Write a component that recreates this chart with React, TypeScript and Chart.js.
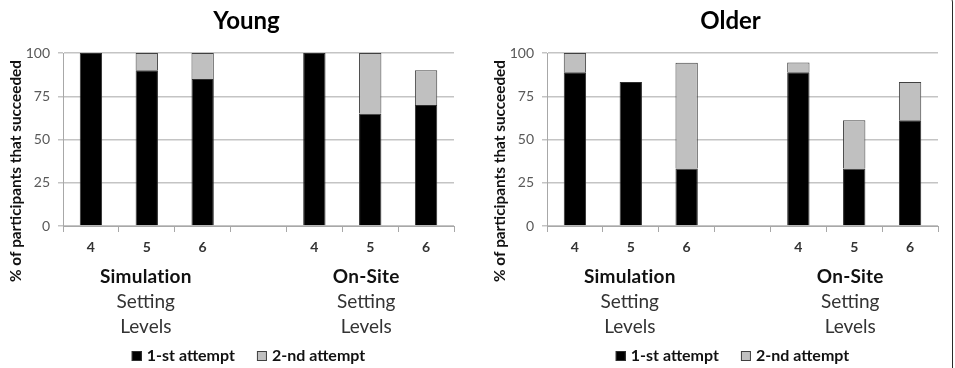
import React, { useEffect, useRef } from "react";
import { Chart, registerables } from "chart.js";

Chart.register(...registerables);

// Difficulty levels per setting; the empty slot separates the two settings.
const levels = ["4", "5", "6", "", "4", "5", "6"];
const groupNames = ["Simulation", "On-Site"];
const groupIndex = [1, 5];
const groupLines = ["Setting", "Levels"];
const seriesNames = ["1-st attempt", "2-nd attempt"];
const yTickValues = [0, 25, 50, 75, 100];
const yAxisTitle = "% of participants that succeeded";

// % of participants succeeding, per level
const youngFirst = [100, 90, 85, null, 100, 65, 70];
const youngSecond = [null, 10, 15, null, null, 35, 20];
const olderFirst = [88.9, 83.3, 33.3, null, 88.9, 33.3, 61.1];
const olderSecond = [11.1, null, 61.1, null, 5.6, 27.8, 22.2];

const FONT = "Lato, 'Open Sans', sans-serif";
const GRID = "#c4c4c4";
const AXIS = "#a8a8a8";

// Draws the heading, rotated axis caption, setting captions and legend.
const decorations = (heading: string) => ({
  id: "decorations",
  afterDraw(chart: any) {
    const { ctx, chartArea } = chart;
    const xScale = chart.scales.x;
    const mid = (chartArea.left + chartArea.right) / 2;
    ctx.save();
    ctx.textAlign = "center";
    ctx.textBaseline = "alphabetic";

    ctx.fillStyle = "#000";
    ctx.font = `bold 24px ${FONT}`;
    ctx.fillText(heading, mid - 12, 29);

    ctx.save();
    ctx.translate(chartArea.left - 47, 171);
    ctx.rotate(-Math.PI / 2);
    ctx.textBaseline = "middle";
    ctx.font = `bold 16px ${FONT}`;
    ctx.fillStyle = "#111";
    ctx.fillText(yAxisTitle, 0, 0, 222);
    ctx.restore();

    groupIndex.forEach((idx, g) => {
      const cx = xScale.getPixelForValue(idx) - (g ? 4 : 1);
      ctx.save();
      // a tiny letter spacing keeps "ti" from joining into a ligature
      (ctx as any).letterSpacing = "0.2px";
      ctx.font = `bold 19px ${FONT}`;
      ctx.fillStyle = "#111";
      ctx.fillText(groupNames[g], cx, 283);
      ctx.restore();
      ctx.font = `19px ${FONT}`;
      ctx.fillStyle = "#333";
      ctx.fillText(groupLines[0], cx, 308);
      ctx.fillText(groupLines[1], cx, 333);
    });

    // legend
    ctx.font = `bold 16px ${FONT}`;
    const box = 10;
    const gapText = 5;
    const gapItem = 22;
    const widths = seriesNames.map((s) => ctx.measureText(s).width);
    const total = widths.reduce((a, w) => a + box + gapText + w, 0) + gapItem;
    let lx = mid - 10 - total / 2;
    const base = 361;
    ctx.textAlign = "left";
    seriesNames.forEach((name, i) => {
      const ds = chart.data.datasets[i];
      ctx.fillStyle = ds.backgroundColor;
      ctx.fillRect(lx, base - box, box, box);
      ctx.strokeStyle = ds.borderColor;
      ctx.lineWidth = 1;
      ctx.strokeRect(lx + 0.5, base - box + 0.5, box - 1, box - 1);
      ctx.fillStyle = "#111";
      ctx.fillText(name, lx + box + gapText, base);
      lx += box + gapText + widths[i] + gapItem;
    });
    ctx.restore();
  },
});

function StackedPanel({
  heading,
  first,
  second,
  padLeft,
  padRight,
  width,
}: {
  heading: string;
  first: (number | null)[];
  second: (number | null)[];
  padLeft: number;
  padRight: number;
  width: number;
}) {
  const ref = useRef<HTMLCanvasElement>(null);
  useEffect(() => {
    if (!ref.current) return;
    const chart = new Chart(ref.current, {
      type: "bar",
      data: {
        labels: levels,
        datasets: [
          {
            label: seriesNames[0],
            data: first,
            backgroundColor: "#000000",
            borderColor: "#2e2e2e",
            borderWidth: 1,
            barPercentage: 0.8,
            categoryPercentage: 0.5,
          },
          {
            label: seriesNames[1],
            data: second,
            backgroundColor: "#c0c0c0",
            borderColor: "#404040",
            borderWidth: 1,
            barPercentage: 0.8,
            categoryPercentage: 0.5,
          },
        ],
      },
      options: {
        animation: false,
        responsive: false,
        maintainAspectRatio: false,
        layout: { padding: { left: padLeft, right: padRight, top: 53, bottom: 0 } },
        plugins: {
          legend: { display: false },
          title: { display: false },
          tooltip: { enabled: false },
        },
        scales: {
          x: {
            stacked: true,
            grid: {
              offset: true,
              drawOnChartArea: false,
              drawTicks: true,
              tickLength: 6,
              color: AXIS,
              lineWidth: 1,
            },
            border: { color: AXIS, width: 1 },
            ticks: {
              autoSkip: false,
              maxRotation: 0,
              padding: 7,
              color: "#333",
              font: { family: FONT, size: 14, weight: "bold" },
            },
            afterFit: (s: any) => {
              s.height = 142;
            },
          },
          y: {
            stacked: true,
            min: 0,
            max: 100,
            afterBuildTicks: (s: any) => {
              s.ticks = yTickValues.map((v) => ({ value: v }));
            },
            ticks: {
              padding: 8,
              color: "#595959",
              font: { family: FONT, size: 14 },
            },
            grid: { color: GRID, lineWidth: 1.5, tickLength: 5 },
            border: { color: AXIS, width: 1 },
            afterFit: (s: any) => {
              s.width = 63;
            },
          },
        },
      },
      plugins: [decorations(heading)],
    });
    return () => chart.destroy();
  }, []);
  return <canvas ref={ref} width={width} height={368} style={{ display: "block" }} />;
}

export default function App() {
  return (
    <div
      style={{
        position: "fixed",
        left: 0,
        top: 0,
        width: 955,
        height: 368,
        background: "#fff",
        overflow: "hidden",
      }}
    >
      <div style={{ position: "absolute", left: 0, top: 0 }}>
        <StackedPanel heading="Young" first={youngFirst} second={youngSecond} padLeft={0} padRight={23} width={477} />
      </div>
      <div style={{ position: "absolute", left: 477, top: 0 }}>
        <StackedPanel heading="Older" first={olderFirst} second={olderSecond} padLeft={7} padRight={17} width={478} />
      </div>
      <div
        style={{
          position: "absolute",
          left: -20,
          top: -8,
          width: 973,
          height: 400,
          boxSizing: "border-box",
          border: "1.5px solid #2a2a2a",
          borderRadius: 10,
          pointerEvents: "none",
        }}
      />
    </div>
  );
}
